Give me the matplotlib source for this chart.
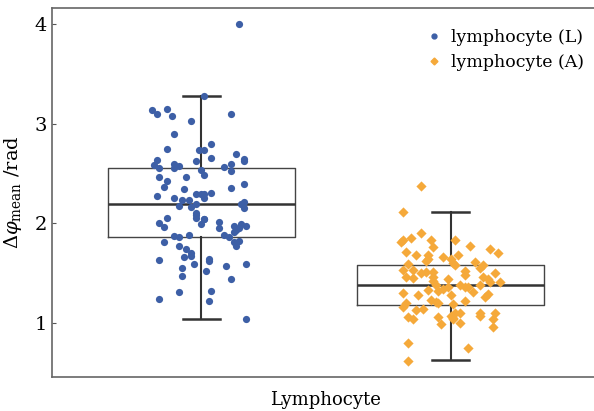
import matplotlib.pyplot as plt
from matplotlib.lines import Line2D

plt.rcParams['font.family'] = ['DejaVu Serif']
plt.rcParams['mathtext.fontset'] = 'dejavuserif'

# jittered points: (offset from box centre, value)
lym_L_offset = [0.01, -0.20, -0.14, -0.18, -0.12, 0.12, -0.04, -0.11, -0.14, 0.04,
                -0.01, 0.01, 0.04, 0.14, -0.18, -0.02, 0.17, 0.17, -0.19, -0.17,
                -0.11, -0.11, -0.09, 0.09, 0.12, 0.12, 0.00, 0.01, -0.17, -0.06,
                -0.14, -0.15, 0.17, 0.12, -0.07, -0.18, -0.11, -0.08, -0.05, -0.02,
                0.00, 0.01, 0.04, 0.01, -0.02, -0.09, -0.04, 0.17, 0.16, 0.17,
                -0.02, -0.02, -0.02, 0.01, 0.01, 0.00, -0.14, -0.17, -0.15, 0.07,
                0.07, 0.13, 0.16, 0.18, 0.14, 0.13, 0.15, -0.11, -0.09, -0.05,
                0.09, 0.11, -0.15, -0.09, 0.13, 0.15, 0.14, -0.06, -0.04, -0.04,
                -0.07, -0.17, 0.03, 0.03, -0.03, 0.10, 0.18, -0.08, 0.02, -0.08,
                0.12, 0.04, -0.09, -0.17, 0.03, 0.18, 0.15]
lym_L_value = [3.28, 3.14, 3.15, 3.10, 3.08, 3.10, 3.03, 2.90, 2.75, 2.80,
               2.74, 2.74, 2.66, 2.70, 2.64, 2.63, 2.65, 2.63, 2.59, 2.56,
               2.60, 2.56, 2.58, 2.57, 2.60, 2.53, 2.54, 2.49, 2.47, 2.47,
               2.43, 2.37, 2.40, 2.36, 2.35, 2.27, 2.25, 2.23, 2.23, 2.29,
               2.29, 2.29, 2.30, 2.25, 2.19, 2.17, 2.16, 2.21, 2.19, 2.15,
               2.10, 2.08, 2.05, 2.04, 2.04, 1.99, 2.05, 2.00, 1.96, 2.01,
               1.95, 1.97, 1.99, 1.97, 1.93, 1.91, 1.95, 1.87, 1.86, 1.88,
               1.88, 1.86, 1.81, 1.77, 1.81, 1.82, 1.77, 1.74, 1.70, 1.67,
               1.66, 1.63, 1.64, 1.62, 1.59, 1.57, 1.59, 1.55, 1.52, 1.47,
               1.44, 1.32, 1.31, 1.24, 1.22, 1.04, 4.00]

lym_A_offset = [-0.12, -0.19, -0.12, -0.16, -0.19, -0.20, -0.08, 0.02, -0.07, 0.08,
                0.16, 0.19, -0.18, -0.14, -0.09, -0.09, -0.03, 0.00, 0.03, 0.01,
                0.02, -0.17, -0.10, 0.10, 0.13, 0.12, -0.19, -0.15, -0.12, -0.10,
                -0.07, 0.06, 0.18, -0.18, -0.15, -0.07, -0.07, -0.01, 0.06, 0.13,
                0.15, 0.16, 0.20, -0.06, 0.04, 0.07, 0.12, -0.09, -0.05, -0.03,
                -0.19, -0.13, 0.00, 0.09, 0.15, 0.14, -0.18, -0.08, -0.06, -0.05,
                0.06, -0.19, 0.01, -0.14, -0.11, -0.17, -0.15, -0.05, 0.00, 0.01,
                0.02, 0.04, 0.04, -0.04, 0.12, 0.12, 0.18, 0.17, 0.17, -0.17,
                0.07, -0.17, 0.01, -0.01, 0.06]
lym_A_value = [2.38, 2.11, 1.90, 1.85, 1.83, 1.81, 1.83, 1.83, 1.76, 1.77,
               1.74, 1.70, 1.71, 1.68, 1.68, 1.64, 1.66, 1.64, 1.68, 1.60,
               1.58, 1.59, 1.62, 1.61, 1.58, 1.55, 1.53, 1.53, 1.50, 1.51,
               1.51, 1.52, 1.50, 1.46, 1.45, 1.46, 1.42, 1.44, 1.48, 1.46,
               1.44, 1.41, 1.41, 1.38, 1.38, 1.36, 1.38, 1.33, 1.32, 1.34,
               1.30, 1.28, 1.28, 1.31, 1.29, 1.26, 1.20, 1.23, 1.21, 1.20,
               1.22, 1.16, 1.19, 1.13, 1.14, 1.06, 1.04, 1.06, 1.07, 1.04,
               1.10, 1.10, 1.00, 0.99, 1.10, 1.07, 1.10, 1.04, 0.96, 0.80,
               0.75, 0.62, 1.05, 1.36, 1.36]

# box statistics
box_med = [2.19, 1.38]
box_q1 = [1.86, 1.18]
box_q3 = [2.56, 1.58]
box_whislo = [1.04, 0.63]
box_whishi = [3.28, 2.11]

blue = '#3d5fa6'
orange = '#f5a93a'

fig = plt.figure(figsize=(5.94, 4.11), dpi=100)
ax = fig.add_axes([52 / 594, 1 - 377 / 411, 1 - 52 / 594 + 0.01, 369 / 411])

stats = []
for i in range(2):
    stats.append({'med': box_med[i], 'q1': box_q1[i], 'q3': box_q3[i],
                  'whislo': box_whislo[i], 'whishi': box_whishi[i], 'fliers': []})

ax.bxp(stats, positions=[0, 1], widths=0.75, showfliers=False,
       boxprops=dict(color='#444444', linewidth=1.0),
       medianprops=dict(color='#333333', linewidth=1.8),
       whiskerprops=dict(color='#333333', linewidth=1.5),
       capprops=dict(color='#333333', linewidth=1.8), capwidths=0.15)

ax.scatter([0 + o for o in lym_L_offset], lym_L_value, s=27, color=blue,
           marker='o', linewidths=0, zorder=3)
ax.scatter([1 + o for o in lym_A_offset], lym_A_value, s=27, color=orange,
           marker='D', linewidths=0, zorder=3)

ax.set_xlim(-0.6, 1.6)
ax.set_ylim(0.46, 4.16)
ax.set_yticks([1, 2, 3, 4])
ax.set_xticks([])
ax.tick_params(axis='y', direction='in', length=3, width=0.8, color='#555555',
               labelsize=14)
for side in ['left', 'top', 'bottom']:
    ax.spines[side].set_color('#666666')
    ax.spines[side].set_linewidth(1.2)
ax.spines['right'].set_visible(False)

ax.set_xlabel('Lymphocyte', fontsize=13, labelpad=10)
ax.set_ylabel(r'$\Delta\varphi_{\mathrm{mean}}$ /rad', fontsize=14, labelpad=8)

handles = [Line2D([], [], marker='o', color=blue, linestyle='none', markersize=3.5),
           Line2D([], [], marker='D', color=orange, linestyle='none', markersize=3.5)]
ax.legend(handles, ['lymphocyte (L)', 'lymphocyte (A)'], loc='upper right',
          frameon=False, fontsize=12.5, handlelength=1.0, handletextpad=0.5,
          labelspacing=0.45, bbox_to_anchor=(1.0, 0.985))

fig.savefig('out.png', dpi=100)
